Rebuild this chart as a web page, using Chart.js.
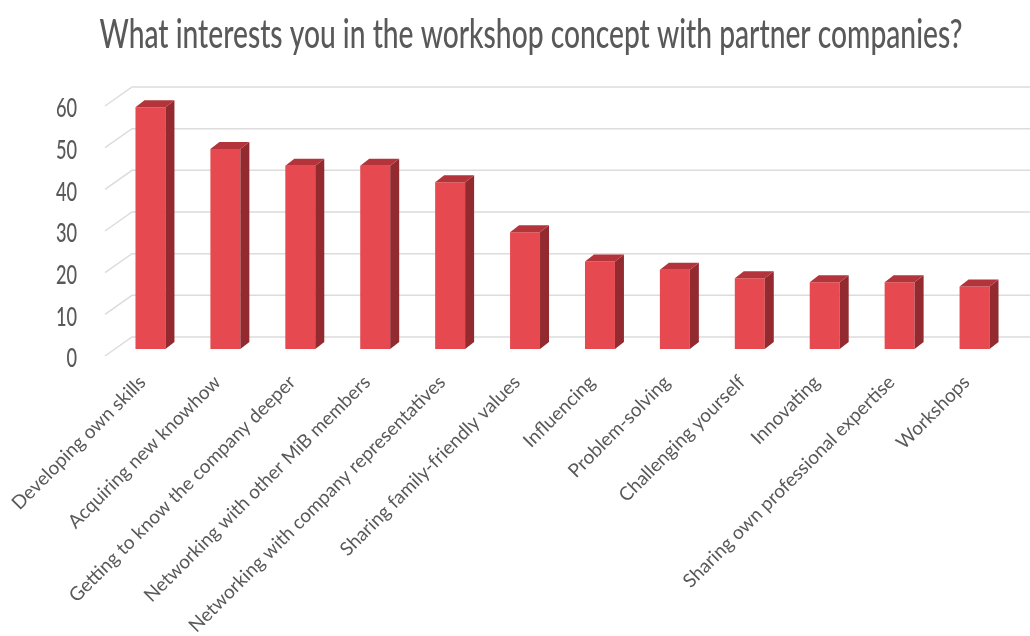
<!DOCTYPE html>
<html>
<head>
<meta charset="utf-8">
<script src="https://cdn.jsdelivr.net/npm/chart.js@4/dist/chart.umd.min.js"></script>
<style>
  html, body { margin: 0; padding: 0; background: #fff; }
  #wrap { width: 1030px; height: 636px; position: relative; }
</style>
</head>
<body>
<div id="wrap"><canvas id="chart"></canvas></div>
<script>
const titleText = 'What interests you in the workshop concept with partner companies?';
const categories = [
  'Developing own skills',
  'Acquiring new knowhow',
  'Getting to know the company deeper',
  'Networking with other MiB members',
  'Networking with company representatives',
  'Sharing family-friendly values',
  'Influencing',
  'Problem-solving',
  'Challenging yourself',
  'Innovating',
  'Sharing own professional expertise',
  'Workshops'
];
const counts = [58, 48, 44, 44, 40, 28, 21, 19, 17, 16, 16, 15];
const yTicks = [0, 10, 20, 30, 40, 50, 60];

const GREY = '#595959';
const DEPTH_X = 9, DEPTH_Y = 7;

// title and value labels in a squeezed face
const narrowTextPlugin = {
  id: 'narrowText',
  afterDraw(chart) {
    const { ctx, chartArea, scales: { y } } = chart;
    ctx.save();
    ctx.fillStyle = GREY;
    ctx.font = '500 40px Lato, sans-serif';
    ctx.textAlign = 'center';
    ctx.textBaseline = 'alphabetic';
    ctx.translate(531, 48);
    ctx.scale(0.705, 1);
    ctx.fillText(titleText, 0, 0);
    ctx.restore();

    ctx.save();
    ctx.fillStyle = GREY;
    ctx.font = '500 26px Lato, sans-serif';
    ctx.textAlign = 'right';
    ctx.textBaseline = 'middle';
    y.ticks.forEach(t => {
      const py = y.getPixelForValue(t.value) + 10;
      ctx.save();
      ctx.translate(chartArea.left - 36, py);
      ctx.scale(0.7, 1);
      ctx.fillText(String(t.value), 0, 0);
      ctx.restore();
    });
    ctx.restore();
  }
};

// floor-style grid: short diagonal then a line along the back wall
const gridPlugin = {
  id: 'perspectiveGrid',
  beforeDatasetsDraw(chart) {
    const { ctx, chartArea, scales: { y } } = chart;
    ctx.save();
    ctx.strokeStyle = '#dcdcdc';
    ctx.lineWidth = 1.5;
    yTicks.forEach(v => {
      const py = y.getPixelForValue(v);
      ctx.beginPath();
      ctx.moveTo(chartArea.left - 8, py + 7);
      ctx.lineTo(chartArea.left + 19, py - 12);
      ctx.lineTo(chart.width, py - 12);
      ctx.stroke();
    });
    ctx.restore();
  }
};

// top and side faces for each bar
const boxPlugin = {
  id: 'box3d',
  afterDatasetsDraw(chart) {
    const ctx = chart.ctx;
    const meta = chart.getDatasetMeta(0);
    ctx.save();
    meta.data.forEach(bar => {
      const { x, y, base, width } = bar.getProps(['x', 'y', 'base', 'width'], true);
      const l = x - width / 2, r = x + width / 2;
      ctx.fillStyle = '#922a2f';
      ctx.beginPath();
      ctx.moveTo(r, y);
      ctx.lineTo(r + DEPTH_X, y - DEPTH_Y);
      ctx.lineTo(r + DEPTH_X, base - DEPTH_Y);
      ctx.lineTo(r, base);
      ctx.closePath();
      ctx.fill();
      ctx.fillStyle = '#b3353b';
      ctx.beginPath();
      ctx.moveTo(l, y);
      ctx.lineTo(l + DEPTH_X, y - DEPTH_Y);
      ctx.lineTo(r + DEPTH_X, y - DEPTH_Y);
      ctx.lineTo(r, y);
      ctx.closePath();
      ctx.fill();
    });
    ctx.restore();
  }
};

new Chart(document.getElementById('chart'), {
  type: 'bar',
  data: {
    labels: categories,
    datasets: [{
      data: counts,
      backgroundColor: '#e64a50',
      borderWidth: 0,
      barPercentage: 0.4,
      categoryPercentage: 1
    }]
  },
  options: {
    responsive: true,
    maintainAspectRatio: false,
    animation: false,
    layout: { padding: { top: 99, right: 18, left: 0, bottom: 0 } },
    plugins: {
      legend: { display: false },
      tooltip: { enabled: false }
    },
    scales: {
      x: {
        grid: { display: false },
        border: { display: false },
        ticks: {
          color: GREY,
          font: { family: 'Lato', size: 19 },
          minRotation: 45,
          maxRotation: 45,
          autoSkip: false,
          padding: 14,
          labelOffset: -8
        },
        afterFit(scale) { scale.height = 287; }
      },
      y: {
        min: 0,
        max: 60,
        grid: { display: false },
        border: { display: false },
        ticks: { stepSize: 10, display: false },
        afterFit(scale) { scale.width = 113; }
      }
    }
  },
  plugins: [gridPlugin, boxPlugin, narrowTextPlugin]
});
</script>
</body>
</html>
